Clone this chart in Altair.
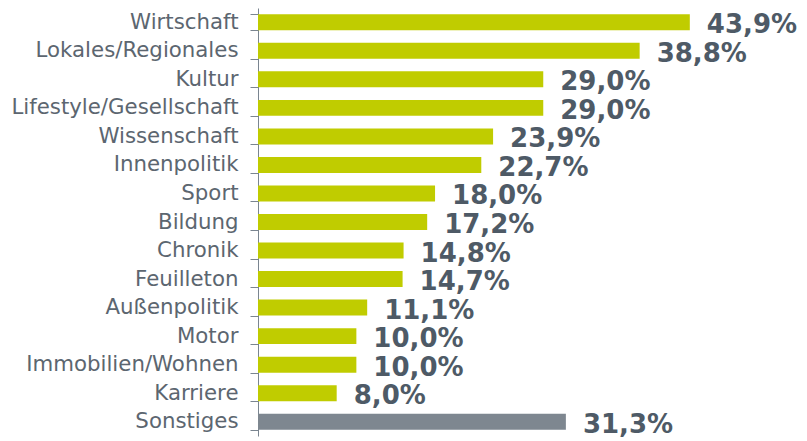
import altair as alt
import pandas as pd

categories = ["Wirtschaft", "Lokales/Regionales", "Kultur", "Lifestyle/Gesellschaft",
              "Wissenschaft", "Innenpolitik", "Sport", "Bildung", "Chronik",
              "Feuilleton", "Außenpolitik", "Motor", "Immobilien/Wohnen",
              "Karriere", "Sonstiges"]
values = [43.9, 38.8, 29.0, 29.0, 23.9, 22.7, 18.0, 17.2, 14.8, 14.7, 11.1,
          10.0, 10.0, 8.0, 31.3]
groups = ["main"] * 14 + ["other"]

df = pd.DataFrame({
    "cat": categories,
    "val": values,
    "grp": groups,
    "label": [f"{v:.1f}%".replace(".", ",") for v in values],
})

y = alt.Y("cat:N", sort=categories, title=None,
          scale=alt.Scale(paddingInner=0.44, paddingOuter=0.22),
          axis=alt.Axis(labelFont="DejaVu Sans", labelFontSize=21.3,
                        labelColor="#5c6670", labelPadding=12,
                        tickSize=8, tickColor="#7a8590", tickBand="extent",
                        domainColor="#7a8590", minExtent=250, maxExtent=250,
                        labelLimit=300))
x = alt.X("val:Q", scale=alt.Scale(domain=[0, 55]), axis=None)

bars = alt.Chart(df).mark_bar().encode(
    y=y, x=x,
    color=alt.Color("grp:N", scale=alt.Scale(domain=["main", "other"],
                                             range=["#c0cc00", "#7e8790"]),
                    legend=None),
)
text = alt.Chart(df).mark_text(align="left", baseline="middle", dx=17, dy=3,
                               font="DejaVu Sans", fontWeight="bold",
                               fontSize=26, color="#4e5a66").encode(
    y=alt.Y("cat:N", sort=categories), x=x, text="label:N")

chart = alt.layer(bars, text).properties(
    width=541, height=428,
    autosize=alt.AutoSizeParams(type="none"),
    padding={"left": 250, "top": 0, "right": 0, "bottom": 4},
).configure_view(stroke=None)

chart.save("out.html", embed_options={"renderer": "svg", "actions": False})
